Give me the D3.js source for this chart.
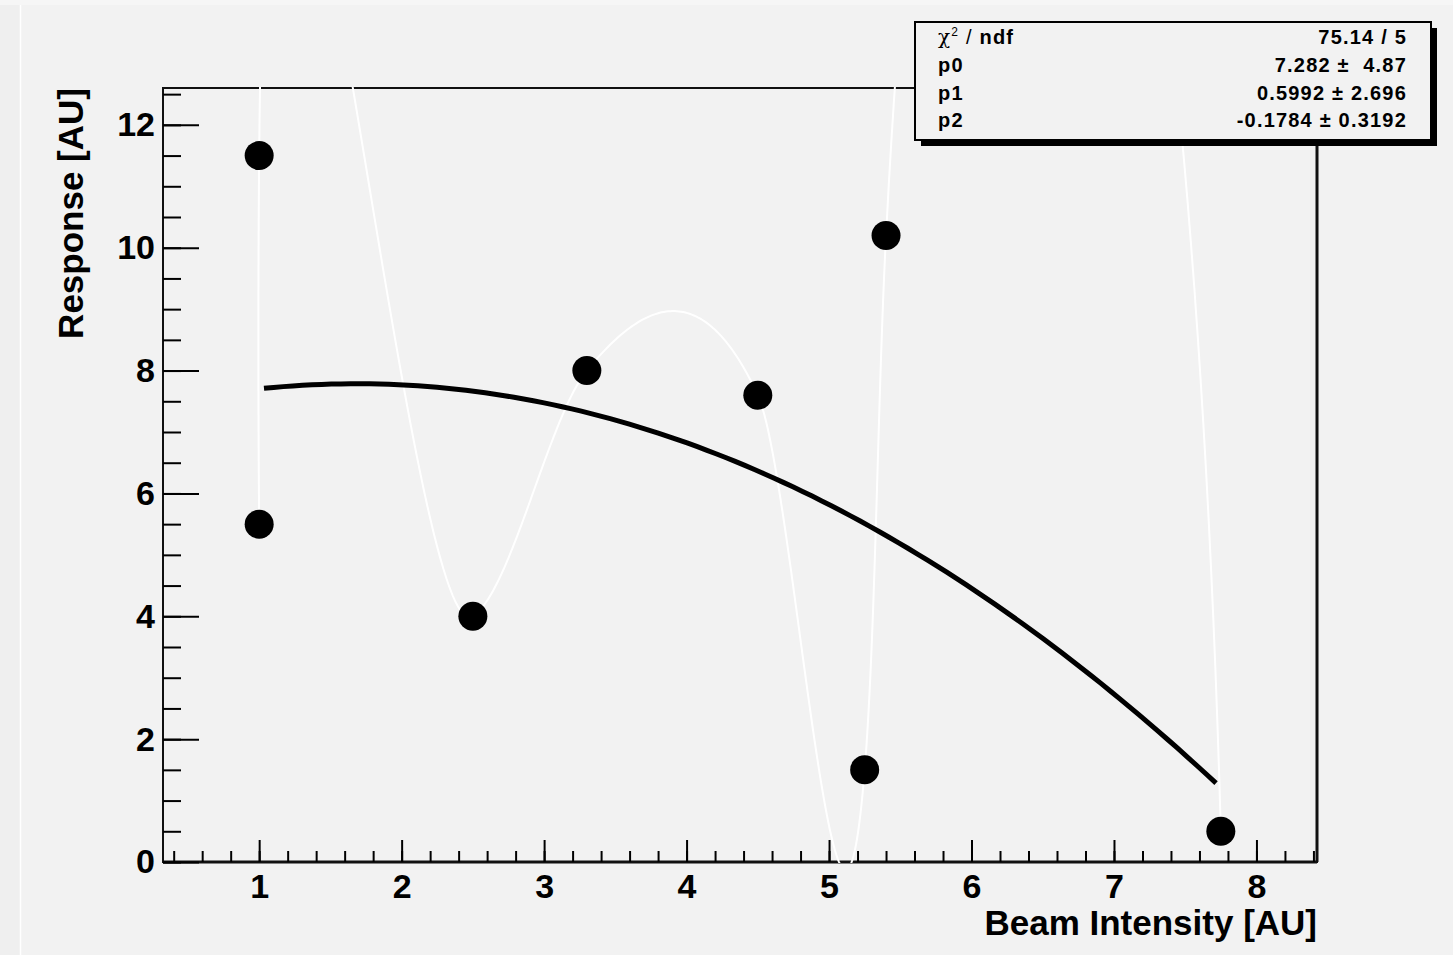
<!DOCTYPE html>
<html>
<head>
<meta charset="utf-8">
<script src="https://cdn.jsdelivr.net/npm/d3@7"></script>
<style>
  html, body { margin: 0; padding: 0; background: #f2f2f2; }
  svg { display: block; }
  text { font-family: "Liberation Sans", Arial, Helvetica, sans-serif; font-weight: bold; fill: #000; }
</style>
</head>
<body>
<svg id="chart" width="1453" height="955"></svg>
<script>
// Measured points (graph order matters for the smooth curve)
const beamIntensity = [1, 1, 2.5, 3.3, 4.5, 5.25, 5.4, 7.75];
const response      = [5.5, 11.5, 4, 8, 7.6, 1.5, 10.2, 0.5];

// Quadratic fit: p0 + p1*x + p2*x^2
const fitNames  = ["p0", "p1", "p2"];
const fitParams = [7.282, 0.5992, -0.1784];
const fitErrors = [4.87, 2.696, 0.3192];
const fitRange  = [1, 7.75];
const chi2 = 75.14, ndf = 5;

// Axis ticks
const xMajorTicks = [1, 2, 3, 4, 5, 6, 7, 8];
const yMajorTicks = [0, 2, 4, 6, 8, 10, 12];

const W = 1453, H = 955;
const frame = { left: 163, right: 1317, top: 88, bottom: 862 };

const svg = d3.select("#chart");

// canvas background with a thin light border
svg.append("rect").attr("width", W).attr("height", H).attr("fill", "#f2f2f2");
svg.append("rect").attr("width", 20).attr("height", H).attr("fill", "#efefef");
svg.append("rect").attr("width", W).attr("height", 5).attr("fill", "#f6f6f6");
svg.append("line").attr("x1", 20.5).attr("x2", 20.5).attr("y1", 5).attr("y2", H)
  .attr("stroke", "#ffffff").attr("stroke-width", 1.5);

// Axis ranges: 10% margin around the data, y floor at zero
const [xMin, xMax] = d3.extent(beamIntensity);
const [yMin, yMax] = d3.extent(response);
const xPad = 0.1 * (xMax - xMin), yPad = 0.1 * (yMax - yMin);
const x = d3.scaleLinear().domain([xMin - xPad, xMax + xPad]).range([frame.left, frame.right]);
const y = d3.scaleLinear().domain([Math.max(0, yMin - yPad), yMax + yPad]).range([frame.bottom, frame.top]);

// Frame
svg.append("rect")
  .attr("x", frame.left).attr("y", frame.top)
  .attr("width", frame.right - frame.left).attr("height", frame.bottom - frame.top)
  .attr("fill", "none").attr("stroke", "#111").attr("stroke-width", 2);
svg.append("line").attr("x1", frame.right).attr("x2", frame.right)
  .attr("y1", frame.top).attr("y2", frame.bottom).attr("stroke", "#111").attr("stroke-width", 3);
svg.append("line").attr("x1", frame.left).attr("x2", frame.right)
  .attr("y1", frame.bottom).attr("y2", frame.bottom).attr("stroke", "#111").attr("stroke-width", 3);

// Axes (ticks point into the frame)
const xMinor = d3.range(2, 43).map(i => i / 5).filter(v => v >= x.domain()[0] && v <= x.domain()[1]);
const yMinor = d3.range(0, 26).map(i => i / 2).filter(v => v <= y.domain()[1]);

function styleAxis(g, size) {
  g.select(".domain").remove();
  g.attr("font-family", null).attr("font-size", null);
  g.selectAll("line").attr("stroke", "#000").attr("stroke-width", 2);
  g.selectAll("text").style("font-size", size + "px");
}

svg.append("g").attr("transform", `translate(0,${frame.bottom})`)
  .call(d3.axisBottom(x).tickValues(xMinor).tickSizeInner(-11).tickSizeOuter(0).tickFormat(""))
  .call(g => styleAxis(g, 34));
svg.append("g").attr("transform", `translate(0,${frame.bottom})`)
  .call(d3.axisBottom(x).tickValues(xMajorTicks).tickSizeInner(-22).tickSizeOuter(0).tickPadding(12).tickFormat(d3.format("d")))
  .call(g => styleAxis(g, 34));

svg.append("g").attr("transform", `translate(${frame.left},0)`)
  .call(d3.axisLeft(y).tickValues(yMinor).tickSizeInner(-18).tickSizeOuter(0).tickFormat(""))
  .call(g => styleAxis(g, 34));
svg.append("g").attr("transform", `translate(${frame.left},0)`)
  .call(d3.axisLeft(y).tickValues(yMajorTicks).tickSizeInner(-36).tickSizeOuter(0).tickPadding(8).tickFormat(d3.format("d")))
  .call(g => styleAxis(g, 34));

// Axis titles
svg.append("text")
  .attr("x", frame.right).attr("y", 935)
  .attr("text-anchor", "end").style("font-size", "35px")
  .text("Beam Intensity [AU]");
svg.append("text")
  .attr("transform", `translate(83,${frame.top}) rotate(-90)`)
  .attr("text-anchor", "end").style("font-size", "35px")
  .text("Response [AU]");

// Clip region for everything drawn inside the frame
svg.append("clipPath").attr("id", "frameClip")
  .append("rect").attr("x", frame.left - 1).attr("y", frame.top - 1)
  .attr("width", frame.right - frame.left + 2).attr("height", frame.bottom - frame.top + 2);

// Smooth curve through the points: tangents weighted toward the shorter
// neighbouring chord, evaluated in a normalised space (x stretched by the
// sign-change ratio), joined with cubic Hermite segments.
function smoothCurve(xs, ys, stepsPerSegment) {
  const n = xs.length;
  const [x0, x1] = d3.extent(xs), [y0, y1] = d3.extent(ys);
  let sx = 1, sy = 1;
  for (let i = 2; i < n; i++) {
    if ((xs[i] - xs[i - 1]) * (xs[i - 1] - xs[i - 2]) < 0) sx++;
    if ((ys[i] - ys[i - 1]) * (ys[i - 1] - ys[i - 2]) < 0) sy++;
  }
  const ratio = sx > 1 ? sy / sx : 20;
  const kx = ratio / (x1 - x0), ky = 1 / (y1 - y0);
  const P = xs.map((v, i) => [(v - x0) * kx, (ys[i] - y0) * ky]);
  const T = new Array(n);
  for (let i = 1; i < n - 1; i++) {
    const dx1 = P[i][0] - P[i - 1][0], dy1 = P[i][1] - P[i - 1][1];
    const dx2 = P[i + 1][0] - P[i][0], dy2 = P[i + 1][1] - P[i][1];
    const dk1 = dx1 * dx1 + dy1 * dy1, dk2 = dx2 * dx2 + dy2 * dy2;
    const cx = dx1 * dk2 + dx2 * dk1, cy = dy1 * dk2 + dy2 * dk1;
    const m = Math.hypot(cx, cy);
    T[i] = [cx / m, cy / m];
  }
  const mirror = (t, a, b) => {
    const dx = b[0] - a[0], dy = b[1] - a[1], L = Math.hypot(dx, dy);
    const cx = dx / L, cy = dy / L, d = t[0] * cx + t[1] * cy;
    return [2 * d * cx - t[0], 2 * d * cy - t[1]];
  };
  T[0] = mirror(T[1], P[0], P[1]);
  T[n - 1] = mirror(T[n - 2], P[n - 2], P[n - 1]);

  const out = [];
  for (let i = 0; i < n - 1; i++) {
    const a = P[i], b = P[i + 1];
    const L = Math.hypot(b[0] - a[0], b[1] - a[1]);
    const ma = [T[i][0] * L, T[i][1] * L], mb = [T[i + 1][0] * L, T[i + 1][1] * L];
    for (let s = (i === 0 ? 0 : 1); s <= stepsPerSegment; s++) {
      const t = s / stepsPerSegment, t2 = t * t, t3 = t2 * t;
      const h00 = 2 * t3 - 3 * t2 + 1, h10 = t3 - 2 * t2 + t, h01 = -2 * t3 + 3 * t2, h11 = t3 - t2;
      const px = h00 * a[0] + h10 * ma[0] + h01 * b[0] + h11 * mb[0];
      const py = h00 * a[1] + h10 * ma[1] + h01 * b[1] + h11 * mb[1];
      out.push([px / kx + x0, py / ky + y0]);
    }
  }
  return out;
}

const plot = svg.append("g").attr("clip-path", "url(#frameClip)");
const line = d3.line().x(d => x(d[0])).y(d => y(d[1]));

plot.append("path")
  .datum(smoothCurve(beamIntensity, response, 80))
  .attr("d", line)
  .attr("fill", "none").attr("stroke", "#ffffff").attr("stroke-width", 2);

// Markers
plot.selectAll("circle.pt")
  .data(beamIntensity.map((v, i) => [v, response[i]]))
  .join("circle")
  .attr("class", "pt")
  .attr("cx", d => x(d[0])).attr("cy", d => y(d[1]))
  .attr("r", 14.5).attr("fill", "#000");

// Fit function sampled at bin centres of the fit range
const nBins = 100;
const fitX = d3.range(nBins).map(i => fitRange[0] + (i + 0.5) * (fitRange[1] - fitRange[0]) / nBins);
const fitPts = fitX.map(v => [v, fitParams[0] + fitParams[1] * v + fitParams[2] * v * v]);
plot.append("path")
  .datum(fitPts)
  .attr("d", line)
  .attr("fill", "none").attr("stroke", "#000").attr("stroke-width", 5);

// Fit statistics box
const box = { x: 915, y: 22, w: 516, h: 118 };
svg.append("rect").attr("x", box.x + 6).attr("y", box.y + 6)
  .attr("width", box.w).attr("height", box.h).attr("fill", "#000");
svg.append("rect").attr("x", box.x).attr("y", box.y)
  .attr("width", box.w).attr("height", box.h)
  .attr("fill", "#f2f2f2").attr("stroke", "#000").attr("stroke-width", 2);

const rowBaselines = [44, 72, 100, 127];
const statLeft = 938, statRight = 1407;
const statStyle = t => t.style("font-size", "20px").style("letter-spacing", "1.2px").style("white-space", "pre");

const chiLabel = svg.append("text").attr("x", statLeft).attr("y", rowBaselines[0]).call(statStyle);
chiLabel.append("tspan").style("font-weight", "normal").style("font-family", "'DejaVu Serif', serif").text("χ");
chiLabel.append("tspan").attr("dy", -8).style("font-size", "12px").style("font-weight", "normal").text("2");
chiLabel.append("tspan").attr("dy", 8).style("font-weight", "normal").text(" / ");
chiLabel.append("tspan").text("ndf");
svg.append("text").attr("x", statRight).attr("y", rowBaselines[0]).attr("text-anchor", "end")
  .call(statStyle).text(`${chi2} / ${ndf}`);

fitNames.forEach((name, i) => {
  svg.append("text").attr("x", statLeft).attr("y", rowBaselines[i + 1]).call(statStyle).text(name);
  svg.append("text").attr("x", statRight).attr("y", rowBaselines[i + 1]).attr("text-anchor", "end")
    .call(statStyle)
    .text(`${String(fitParams[i])} \u00b1 ${String(fitErrors[i]).padStart(5, " ")}`);
});
</script>
</body>
</html>
